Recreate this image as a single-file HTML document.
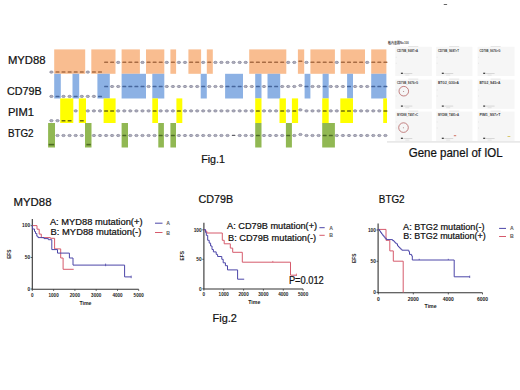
<!DOCTYPE html>
<html><head><meta charset="utf-8"><title>IOL gene panel</title>
<style>
html,body{margin:0;padding:0;background:#fff;width:520px;height:390px;overflow:hidden}
svg{display:block}
text{font-family:"Liberation Sans",sans-serif}
</style></head>
<body>
<svg width="520" height="390" viewBox="0 0 520 390">
<rect width="520" height="390" fill="#fff"/>
<rect x="54.2" y="49.4" width="31.0" height="24.4" fill="#f9bd90"/>
<rect x="91.3" y="49.4" width="24.2" height="24.4" fill="#f9bd90"/>
<rect x="121.6" y="49.4" width="18.3" height="24.4" fill="#f9bd90"/>
<rect x="146.0" y="49.4" width="18.3" height="24.4" fill="#f9bd90"/>
<rect x="170.4" y="49.4" width="5.7" height="24.4" fill="#f9bd90"/>
<rect x="188.4" y="49.4" width="12.7" height="24.4" fill="#f9bd90"/>
<rect x="206.8" y="49.4" width="6.0" height="24.4" fill="#f9bd90"/>
<rect x="249.2" y="49.4" width="37.1" height="24.4" fill="#f9bd90"/>
<rect x="297.9" y="49.4" width="6.3" height="24.4" fill="#f9bd90"/>
<rect x="310.4" y="49.4" width="24.5" height="24.4" fill="#f9bd90"/>
<rect x="340.6" y="49.4" width="24.4" height="24.4" fill="#f9bd90"/>
<rect x="371.2" y="49.4" width="15.2" height="24.4" fill="#f9bd90"/>
<rect x="54.2" y="73.8" width="6.6" height="24.7" fill="#8cb1e4"/>
<rect x="72.5" y="73.8" width="6.7" height="24.7" fill="#8cb1e4"/>
<rect x="97.4" y="73.8" width="12.4" height="24.7" fill="#8cb1e4"/>
<rect x="121.6" y="73.8" width="24.4" height="24.7" fill="#8cb1e4"/>
<rect x="152.3" y="73.8" width="12.0" height="24.7" fill="#8cb1e4"/>
<rect x="200.7" y="73.8" width="6.1" height="24.7" fill="#8cb1e4"/>
<rect x="225.1" y="73.8" width="17.9" height="24.7" fill="#8cb1e4"/>
<rect x="255.2" y="73.8" width="6.3" height="24.7" fill="#8cb1e4"/>
<rect x="267.5" y="73.8" width="12.7" height="24.7" fill="#8cb1e4"/>
<rect x="304.6" y="73.8" width="5.8" height="24.7" fill="#8cb1e4"/>
<rect x="322.6" y="73.8" width="6.1" height="24.7" fill="#8cb1e4"/>
<rect x="347.1" y="73.8" width="5.9" height="24.7" fill="#8cb1e4"/>
<rect x="371.2" y="73.8" width="15.2" height="24.7" fill="#8cb1e4"/>
<rect x="60.2" y="98.4" width="13.1" height="24.6" fill="#ffff00"/>
<rect x="78.8" y="98.4" width="7.2" height="24.6" fill="#ffff00"/>
<rect x="103.6" y="98.4" width="12.0" height="24.6" fill="#ffff00"/>
<rect x="152.3" y="98.4" width="5.7" height="24.6" fill="#ffff00"/>
<rect x="176.4" y="98.4" width="5.9" height="24.6" fill="#ffff00"/>
<rect x="255.2" y="98.4" width="6.3" height="24.6" fill="#ffff00"/>
<rect x="279.5" y="98.4" width="6.4" height="24.6" fill="#ffff00"/>
<rect x="291.9" y="98.4" width="6.2" height="24.6" fill="#ffff00"/>
<rect x="322.2" y="98.4" width="6.5" height="24.6" fill="#ffff00"/>
<rect x="340.3" y="98.4" width="12.7" height="24.6" fill="#ffff00"/>
<rect x="383.2" y="98.4" width="3.8" height="24.6" fill="#ffff00"/>
<rect x="48.1" y="123.0" width="6.9" height="24.5" fill="#91b853"/>
<rect x="85.0" y="123.0" width="6.5" height="24.5" fill="#91b853"/>
<rect x="121.6" y="123.0" width="6.4" height="24.5" fill="#91b853"/>
<rect x="158.3" y="123.0" width="5.6" height="24.5" fill="#91b853"/>
<rect x="170.4" y="123.0" width="5.6" height="24.5" fill="#91b853"/>
<rect x="255.2" y="123.0" width="6.3" height="24.5" fill="#91b853"/>
<rect x="285.9" y="123.0" width="6.0" height="24.5" fill="#91b853"/>
<rect x="322.2" y="123.0" width="12.7" height="24.5" fill="#91b853"/>
<g fill="#aeaebe" stroke="#8a8a9c" stroke-width="0.8"><ellipse cx="51.4" cy="72.1" rx="1.7" ry="1.1"/><ellipse cx="51.4" cy="96.4" rx="1.7" ry="1.1"/><ellipse cx="51.4" cy="120.7" rx="1.7" ry="1.1"/><ellipse cx="57.5" cy="120.7" rx="1.7" ry="1.1"/><ellipse cx="57.5" cy="135.5" rx="1.7" ry="1.1"/><ellipse cx="63.5" cy="96.4" rx="1.7" ry="1.1"/><ellipse cx="63.5" cy="135.5" rx="1.7" ry="1.1"/><ellipse cx="69.6" cy="96.4" rx="1.7" ry="1.1"/><ellipse cx="69.6" cy="135.5" rx="1.7" ry="1.1"/><ellipse cx="75.7" cy="110.9" rx="1.7" ry="1.1"/><ellipse cx="75.7" cy="135.5" rx="1.7" ry="1.1"/><ellipse cx="81.8" cy="96.4" rx="1.7" ry="1.1"/><ellipse cx="81.8" cy="135.5" rx="1.7" ry="1.1"/><ellipse cx="87.8" cy="72.1" rx="1.7" ry="1.1"/><ellipse cx="87.8" cy="96.4" rx="1.7" ry="1.1"/><ellipse cx="87.8" cy="110.9" rx="1.7" ry="1.1"/><ellipse cx="93.9" cy="96.4" rx="1.7" ry="1.1"/><ellipse cx="93.9" cy="110.9" rx="1.7" ry="1.1"/><ellipse cx="93.9" cy="135.5" rx="1.7" ry="1.1"/><ellipse cx="100.0" cy="110.9" rx="1.7" ry="1.1"/><ellipse cx="100.0" cy="135.5" rx="1.7" ry="1.1"/><ellipse cx="106.1" cy="135.5" rx="1.7" ry="1.1"/><ellipse cx="112.1" cy="86.5" rx="1.7" ry="1.1"/><ellipse cx="112.1" cy="135.5" rx="1.7" ry="1.1"/><ellipse cx="118.2" cy="62.4" rx="1.7" ry="1.1"/><ellipse cx="118.2" cy="86.5" rx="1.7" ry="1.1"/><ellipse cx="118.2" cy="110.9" rx="1.7" ry="1.1"/><ellipse cx="118.2" cy="135.5" rx="1.7" ry="1.1"/><ellipse cx="124.3" cy="110.9" rx="1.7" ry="1.1"/><ellipse cx="130.3" cy="110.9" rx="1.7" ry="1.1"/><ellipse cx="130.3" cy="135.5" rx="1.7" ry="1.1"/><ellipse cx="136.4" cy="110.9" rx="1.7" ry="1.1"/><ellipse cx="136.4" cy="135.5" rx="1.7" ry="1.1"/><ellipse cx="142.5" cy="62.4" rx="1.7" ry="1.1"/><ellipse cx="142.5" cy="110.9" rx="1.7" ry="1.1"/><ellipse cx="142.5" cy="135.5" rx="1.7" ry="1.1"/><ellipse cx="148.6" cy="86.5" rx="1.7" ry="1.1"/><ellipse cx="148.6" cy="110.9" rx="1.7" ry="1.1"/><ellipse cx="148.6" cy="135.5" rx="1.7" ry="1.1"/><ellipse cx="154.6" cy="135.5" rx="1.7" ry="1.1"/><ellipse cx="160.7" cy="110.9" rx="1.7" ry="1.1"/><ellipse cx="166.8" cy="62.4" rx="1.7" ry="1.1"/><ellipse cx="166.8" cy="86.5" rx="1.7" ry="1.1"/><ellipse cx="166.8" cy="110.9" rx="1.7" ry="1.1"/><ellipse cx="166.8" cy="135.5" rx="1.7" ry="1.1"/><ellipse cx="172.9" cy="86.5" rx="1.7" ry="1.1"/><ellipse cx="172.9" cy="110.9" rx="1.7" ry="1.1"/><ellipse cx="178.9" cy="62.4" rx="1.7" ry="1.1"/><ellipse cx="178.9" cy="86.5" rx="1.7" ry="1.1"/><ellipse cx="178.9" cy="135.5" rx="1.7" ry="1.1"/><ellipse cx="185.0" cy="62.4" rx="1.7" ry="1.1"/><ellipse cx="185.0" cy="86.5" rx="1.7" ry="1.1"/><ellipse cx="185.0" cy="110.9" rx="1.7" ry="1.1"/><ellipse cx="185.0" cy="135.5" rx="1.7" ry="1.1"/><ellipse cx="191.1" cy="86.5" rx="1.7" ry="1.1"/><ellipse cx="191.1" cy="110.9" rx="1.7" ry="1.1"/><ellipse cx="191.1" cy="135.5" rx="1.7" ry="1.1"/><ellipse cx="197.2" cy="86.5" rx="1.7" ry="1.1"/><ellipse cx="197.2" cy="110.9" rx="1.7" ry="1.1"/><ellipse cx="197.2" cy="135.5" rx="1.7" ry="1.1"/><ellipse cx="203.2" cy="62.4" rx="1.7" ry="1.1"/><ellipse cx="203.2" cy="110.9" rx="1.7" ry="1.1"/><ellipse cx="203.2" cy="135.5" rx="1.7" ry="1.1"/><ellipse cx="209.3" cy="86.5" rx="1.7" ry="1.1"/><ellipse cx="209.3" cy="110.9" rx="1.7" ry="1.1"/><ellipse cx="209.3" cy="135.5" rx="1.7" ry="1.1"/><ellipse cx="215.4" cy="62.4" rx="1.7" ry="1.1"/><ellipse cx="215.4" cy="86.5" rx="1.7" ry="1.1"/><ellipse cx="215.4" cy="110.9" rx="1.7" ry="1.1"/><ellipse cx="215.4" cy="135.5" rx="1.7" ry="1.1"/><ellipse cx="221.4" cy="62.4" rx="1.7" ry="1.1"/><ellipse cx="221.4" cy="86.5" rx="1.7" ry="1.1"/><ellipse cx="221.4" cy="110.9" rx="1.7" ry="1.1"/><ellipse cx="221.4" cy="135.5" rx="1.7" ry="1.1"/><ellipse cx="227.5" cy="62.4" rx="1.7" ry="1.1"/><ellipse cx="227.5" cy="110.9" rx="1.7" ry="1.1"/><ellipse cx="227.5" cy="135.5" rx="1.7" ry="1.1"/><ellipse cx="233.6" cy="62.4" rx="1.7" ry="1.1"/><ellipse cx="233.6" cy="110.9" rx="1.7" ry="1.1"/><ellipse cx="239.7" cy="62.4" rx="1.7" ry="1.1"/><ellipse cx="239.7" cy="110.9" rx="1.7" ry="1.1"/><ellipse cx="239.7" cy="135.5" rx="1.7" ry="1.1"/><ellipse cx="245.7" cy="62.4" rx="1.7" ry="1.1"/><ellipse cx="245.7" cy="86.5" rx="1.7" ry="1.1"/><ellipse cx="245.7" cy="110.9" rx="1.7" ry="1.1"/><ellipse cx="245.7" cy="135.5" rx="1.7" ry="1.1"/><ellipse cx="251.8" cy="86.5" rx="1.7" ry="1.1"/><ellipse cx="251.8" cy="110.9" rx="1.7" ry="1.1"/><ellipse cx="251.8" cy="135.5" rx="1.7" ry="1.1"/><ellipse cx="264.0" cy="86.5" rx="1.7" ry="1.1"/><ellipse cx="264.0" cy="110.9" rx="1.7" ry="1.1"/><ellipse cx="264.0" cy="135.5" rx="1.7" ry="1.1"/><ellipse cx="270.0" cy="110.9" rx="1.7" ry="1.1"/><ellipse cx="270.0" cy="135.5" rx="1.7" ry="1.1"/><ellipse cx="276.1" cy="110.9" rx="1.7" ry="1.1"/><ellipse cx="276.1" cy="135.5" rx="1.7" ry="1.1"/><ellipse cx="282.2" cy="86.5" rx="1.7" ry="1.1"/><ellipse cx="282.2" cy="135.5" rx="1.7" ry="1.1"/><ellipse cx="288.2" cy="62.4" rx="1.7" ry="1.1"/><ellipse cx="288.2" cy="86.5" rx="1.7" ry="1.1"/><ellipse cx="288.2" cy="110.9" rx="1.7" ry="1.1"/><ellipse cx="294.3" cy="62.4" rx="1.7" ry="1.1"/><ellipse cx="294.3" cy="86.5" rx="1.7" ry="1.1"/><ellipse cx="294.3" cy="135.5" rx="1.7" ry="1.1"/><ellipse cx="300.4" cy="85.5" rx="1.7" ry="1.1"/><ellipse cx="300.4" cy="109.9" rx="1.7" ry="1.1"/><ellipse cx="300.4" cy="134.5" rx="1.7" ry="1.1"/><ellipse cx="306.5" cy="62.4" rx="1.7" ry="1.1"/><ellipse cx="306.5" cy="110.9" rx="1.7" ry="1.1"/><ellipse cx="306.5" cy="135.5" rx="1.7" ry="1.1"/><ellipse cx="312.5" cy="86.5" rx="1.7" ry="1.1"/><ellipse cx="312.5" cy="110.9" rx="1.7" ry="1.1"/><ellipse cx="312.5" cy="135.5" rx="1.7" ry="1.1"/><ellipse cx="318.6" cy="86.5" rx="1.7" ry="1.1"/><ellipse cx="318.6" cy="110.9" rx="1.7" ry="1.1"/><ellipse cx="318.6" cy="135.5" rx="1.7" ry="1.1"/><ellipse cx="330.8" cy="86.5" rx="1.7" ry="1.1"/><ellipse cx="330.8" cy="110.9" rx="1.7" ry="1.1"/><ellipse cx="336.8" cy="62.4" rx="1.7" ry="1.1"/><ellipse cx="336.8" cy="86.5" rx="1.7" ry="1.1"/><ellipse cx="336.8" cy="110.9" rx="1.7" ry="1.1"/><ellipse cx="336.8" cy="135.5" rx="1.7" ry="1.1"/><ellipse cx="342.9" cy="86.5" rx="1.7" ry="1.1"/><ellipse cx="342.9" cy="135.5" rx="1.7" ry="1.1"/><ellipse cx="349.0" cy="135.5" rx="1.7" ry="1.1"/><ellipse cx="355.1" cy="86.5" rx="1.7" ry="1.1"/><ellipse cx="355.1" cy="110.9" rx="1.7" ry="1.1"/><ellipse cx="355.1" cy="135.5" rx="1.7" ry="1.1"/><ellipse cx="361.1" cy="86.5" rx="1.7" ry="1.1"/><ellipse cx="361.1" cy="110.9" rx="1.7" ry="1.1"/><ellipse cx="361.1" cy="135.5" rx="1.7" ry="1.1"/><ellipse cx="367.2" cy="62.4" rx="1.7" ry="1.1"/><ellipse cx="367.2" cy="86.5" rx="1.7" ry="1.1"/><ellipse cx="367.2" cy="110.9" rx="1.7" ry="1.1"/><ellipse cx="367.2" cy="135.5" rx="1.7" ry="1.1"/><ellipse cx="373.3" cy="110.9" rx="1.7" ry="1.1"/><ellipse cx="373.3" cy="135.5" rx="1.7" ry="1.1"/><ellipse cx="379.3" cy="110.9" rx="1.7" ry="1.1"/><ellipse cx="379.3" cy="135.5" rx="1.7" ry="1.1"/><ellipse cx="385.4" cy="135.5" rx="1.7" ry="1.1"/></g><rect x="55.5" y="71.3" width="4.0" height="1.5" rx="0.5" fill="#a86c44"/><rect x="55.5" y="95.7" width="4.0" height="1.5" rx="0.5" fill="#46669c"/><rect x="61.5" y="71.3" width="4.0" height="1.5" rx="0.5" fill="#a86c44"/><rect x="61.5" y="120.0" width="4.0" height="1.5" rx="0.5" fill="#70700c"/><rect x="67.6" y="71.3" width="4.0" height="1.5" rx="0.5" fill="#a86c44"/><rect x="67.6" y="120.0" width="4.0" height="1.5" rx="0.5" fill="#70700c"/><rect x="73.7" y="71.3" width="4.0" height="1.5" rx="0.5" fill="#a86c44"/><rect x="73.7" y="95.7" width="4.0" height="1.5" rx="0.5" fill="#46669c"/><rect x="79.8" y="71.3" width="4.0" height="1.5" rx="0.5" fill="#a86c44"/><rect x="79.8" y="120.0" width="4.0" height="1.5" rx="0.5" fill="#70700c"/><rect x="91.9" y="71.3" width="4.0" height="1.5" rx="0.5" fill="#a86c44"/><rect x="98.0" y="71.3" width="4.0" height="1.5" rx="0.5" fill="#a86c44"/><rect x="98.0" y="95.7" width="4.0" height="1.5" rx="0.5" fill="#46669c"/><rect x="104.1" y="61.6" width="4.0" height="1.5" rx="0.5" fill="#a86c44"/><rect x="104.1" y="85.8" width="4.0" height="1.5" rx="0.5" fill="#46669c"/><rect x="104.1" y="110.2" width="4.0" height="1.5" rx="0.5" fill="#70700c"/><rect x="110.1" y="61.6" width="4.0" height="1.5" rx="0.5" fill="#a86c44"/><rect x="110.1" y="110.2" width="4.0" height="1.5" rx="0.5" fill="#70700c"/><rect x="122.3" y="61.6" width="4.0" height="1.5" rx="0.5" fill="#a86c44"/><rect x="122.3" y="85.8" width="4.0" height="1.5" rx="0.5" fill="#46669c"/><rect x="122.3" y="134.8" width="4.0" height="1.5" rx="0.5" fill="#4c6a26"/><rect x="128.3" y="61.6" width="4.0" height="1.5" rx="0.5" fill="#a86c44"/><rect x="128.3" y="85.8" width="4.0" height="1.5" rx="0.5" fill="#46669c"/><rect x="134.4" y="61.6" width="4.0" height="1.5" rx="0.5" fill="#a86c44"/><rect x="134.4" y="85.8" width="4.0" height="1.5" rx="0.5" fill="#46669c"/><rect x="140.5" y="85.8" width="4.0" height="1.5" rx="0.5" fill="#46669c"/><rect x="146.6" y="61.6" width="4.0" height="1.5" rx="0.5" fill="#a86c44"/><rect x="152.6" y="61.6" width="4.0" height="1.5" rx="0.5" fill="#a86c44"/><rect x="152.6" y="85.8" width="4.0" height="1.5" rx="0.5" fill="#46669c"/><rect x="152.6" y="110.2" width="4.0" height="1.5" rx="0.5" fill="#70700c"/><rect x="158.7" y="61.6" width="4.0" height="1.5" rx="0.5" fill="#a86c44"/><rect x="158.7" y="85.8" width="4.0" height="1.5" rx="0.5" fill="#46669c"/><rect x="158.7" y="134.8" width="4.0" height="1.5" rx="0.5" fill="#4c6a26"/><rect x="170.9" y="61.6" width="4.0" height="1.5" rx="0.5" fill="#a86c44"/><rect x="170.9" y="134.8" width="4.0" height="1.5" rx="0.5" fill="#4c6a26"/><rect x="176.9" y="110.2" width="4.0" height="1.5" rx="0.5" fill="#70700c"/><rect x="189.1" y="61.6" width="4.0" height="1.5" rx="0.5" fill="#a86c44"/><rect x="195.2" y="61.6" width="4.0" height="1.5" rx="0.5" fill="#a86c44"/><rect x="201.2" y="85.8" width="4.0" height="1.5" rx="0.5" fill="#46669c"/><rect x="207.3" y="61.6" width="4.0" height="1.5" rx="0.5" fill="#a86c44"/><rect x="225.5" y="85.8" width="4.0" height="1.5" rx="0.5" fill="#46669c"/><rect x="231.6" y="85.8" width="4.0" height="1.5" rx="0.5" fill="#46669c"/><rect x="237.7" y="85.8" width="4.0" height="1.5" rx="0.5" fill="#46669c"/><rect x="249.8" y="61.6" width="4.0" height="1.5" rx="0.5" fill="#a86c44"/><rect x="255.9" y="61.6" width="4.0" height="1.5" rx="0.5" fill="#a86c44"/><rect x="255.9" y="85.8" width="4.0" height="1.5" rx="0.5" fill="#46669c"/><rect x="255.9" y="110.2" width="4.0" height="1.5" rx="0.5" fill="#70700c"/><rect x="255.9" y="134.8" width="4.0" height="1.5" rx="0.5" fill="#4c6a26"/><rect x="262.0" y="61.6" width="4.0" height="1.5" rx="0.5" fill="#a86c44"/><rect x="268.0" y="61.6" width="4.0" height="1.5" rx="0.5" fill="#a86c44"/><rect x="268.0" y="85.8" width="4.0" height="1.5" rx="0.5" fill="#46669c"/><rect x="274.1" y="61.6" width="4.0" height="1.5" rx="0.5" fill="#a86c44"/><rect x="274.1" y="85.8" width="4.0" height="1.5" rx="0.5" fill="#46669c"/><rect x="280.2" y="61.6" width="4.0" height="1.5" rx="0.5" fill="#a86c44"/><rect x="280.2" y="110.2" width="4.0" height="1.5" rx="0.5" fill="#70700c"/><rect x="286.2" y="134.8" width="4.0" height="1.5" rx="0.5" fill="#4c6a26"/><rect x="292.3" y="110.2" width="4.0" height="1.5" rx="0.5" fill="#70700c"/><rect x="298.4" y="60.6" width="4.0" height="1.5" rx="0.5" fill="#a86c44"/><rect x="304.5" y="85.8" width="4.0" height="1.5" rx="0.5" fill="#46669c"/><rect x="310.5" y="61.6" width="4.0" height="1.5" rx="0.5" fill="#a86c44"/><rect x="316.6" y="61.6" width="4.0" height="1.5" rx="0.5" fill="#a86c44"/><rect x="322.7" y="61.6" width="4.0" height="1.5" rx="0.5" fill="#a86c44"/><rect x="322.7" y="85.8" width="4.0" height="1.5" rx="0.5" fill="#46669c"/><rect x="322.7" y="110.2" width="4.0" height="1.5" rx="0.5" fill="#70700c"/><rect x="322.7" y="134.8" width="4.0" height="1.5" rx="0.5" fill="#4c6a26"/><rect x="328.8" y="61.6" width="4.0" height="1.5" rx="0.5" fill="#a86c44"/><rect x="328.8" y="134.8" width="4.0" height="1.5" rx="0.5" fill="#4c6a26"/><rect x="340.9" y="61.6" width="4.0" height="1.5" rx="0.5" fill="#a86c44"/><rect x="340.9" y="110.2" width="4.0" height="1.5" rx="0.5" fill="#70700c"/><rect x="347.0" y="61.6" width="4.0" height="1.5" rx="0.5" fill="#a86c44"/><rect x="347.0" y="85.8" width="4.0" height="1.5" rx="0.5" fill="#46669c"/><rect x="347.0" y="110.2" width="4.0" height="1.5" rx="0.5" fill="#70700c"/><rect x="353.1" y="61.6" width="4.0" height="1.5" rx="0.5" fill="#a86c44"/><rect x="359.1" y="61.6" width="4.0" height="1.5" rx="0.5" fill="#a86c44"/><rect x="371.3" y="61.6" width="4.0" height="1.5" rx="0.5" fill="#a86c44"/><rect x="371.3" y="85.8" width="4.0" height="1.5" rx="0.5" fill="#46669c"/><rect x="377.3" y="61.6" width="4.0" height="1.5" rx="0.5" fill="#a86c44"/><rect x="377.3" y="85.8" width="4.0" height="1.5" rx="0.5" fill="#46669c"/><rect x="383.4" y="61.6" width="4.0" height="1.5" rx="0.5" fill="#a86c44"/><rect x="383.4" y="85.8" width="4.0" height="1.5" rx="0.5" fill="#46669c"/><rect x="383.4" y="110.2" width="4.0" height="1.5" rx="0.5" fill="#70700c"/>
<rect x="231.8" y="134.8" width="3.6" height="1.3" rx="0.5" fill="#606068"/><g fill="#4d6a22"><rect x="48.6" y="143.8" width="5.6" height="1.6"/><rect x="86.4" y="143.8" width="4.4" height="1.6"/></g>
<rect x="395.3" y="46.8" width="36.5" height="29.2" fill="#f6f6f6"/>
<text x="397.1" y="51.5" font-size="3.4" font-weight="bold" fill="#3a3a3a" textLength="21" lengthAdjust="spacingAndGlyphs">CD79B_S687&gt;A</text>
<rect x="408.3" y="46.0" width="10" height="0.5" fill="#ccc"/>
<rect x="400.9" y="72.7" width="2" height="1.2" fill="#333"/>
<rect x="403.3" y="73.0" width="9" height="0.5" fill="#bbb"/>
<rect x="405.3" y="74.8" width="4" height="0.5" fill="#ccc"/>
<rect x="395.8" y="56.8" width="0.8" height="0.8" fill="#ddd"/>
<rect x="395.8" y="62.8" width="0.8" height="0.8" fill="#ddd"/>
<rect x="436.2" y="46.8" width="36.2" height="29.2" fill="#f6f6f6"/>
<text x="438.0" y="51.5" font-size="3.4" font-weight="bold" fill="#3a3a3a" textLength="21" lengthAdjust="spacingAndGlyphs">CD79B_S687&gt;T</text>
<rect x="449.2" y="46.0" width="10" height="0.5" fill="#ccc"/>
<rect x="441.8" y="72.7" width="2" height="1.2" fill="#333"/>
<rect x="444.2" y="73.0" width="9" height="0.5" fill="#bbb"/>
<rect x="446.2" y="74.8" width="4" height="0.5" fill="#ccc"/>
<rect x="436.7" y="56.8" width="0.8" height="0.8" fill="#ddd"/>
<rect x="436.7" y="62.8" width="0.8" height="0.8" fill="#ddd"/>
<rect x="477.6" y="46.8" width="36.9" height="29.2" fill="#f6f6f6"/>
<text x="479.4" y="51.5" font-size="3.4" font-weight="bold" fill="#3a3a3a" textLength="21" lengthAdjust="spacingAndGlyphs">CD79B_S676&gt;G</text>
<rect x="490.6" y="46.0" width="10" height="0.5" fill="#ccc"/>
<rect x="483.2" y="72.7" width="2" height="1.2" fill="#333"/>
<rect x="485.6" y="73.0" width="9" height="0.5" fill="#bbb"/>
<rect x="487.6" y="74.8" width="4" height="0.5" fill="#ccc"/>
<rect x="478.1" y="56.8" width="0.8" height="0.8" fill="#ddd"/>
<rect x="478.1" y="62.8" width="0.8" height="0.8" fill="#ddd"/>
<rect x="395.3" y="79.6" width="36.5" height="29.2" fill="#f6f6f6"/>
<text x="397.1" y="84.3" font-size="3.4" font-weight="bold" fill="#3a3a3a" textLength="21" lengthAdjust="spacingAndGlyphs">CD79B_S676&gt;G</text>
<rect x="408.3" y="78.8" width="10" height="0.5" fill="#ccc"/>
<rect x="400.9" y="105.5" width="2" height="1.2" fill="#333"/>
<rect x="403.3" y="105.8" width="9" height="0.5" fill="#bbb"/>
<rect x="405.3" y="107.6" width="4" height="0.5" fill="#ccc"/>
<rect x="395.8" y="89.6" width="0.8" height="0.8" fill="#ddd"/>
<rect x="395.8" y="95.6" width="0.8" height="0.8" fill="#ddd"/>
<rect x="436.2" y="79.6" width="36.2" height="29.2" fill="#f6f6f6"/>
<text x="438.0" y="84.3" font-size="3.4" font-weight="bold" fill="#3a3a3a" textLength="21" lengthAdjust="spacingAndGlyphs">BTG2_G30&gt;A</text>
<rect x="449.2" y="78.8" width="10" height="0.5" fill="#ccc"/>
<rect x="441.8" y="105.5" width="2" height="1.2" fill="#333"/>
<rect x="444.2" y="105.8" width="9" height="0.5" fill="#bbb"/>
<rect x="446.2" y="107.6" width="4" height="0.5" fill="#ccc"/>
<rect x="436.7" y="89.6" width="0.8" height="0.8" fill="#ddd"/>
<rect x="436.7" y="95.6" width="0.8" height="0.8" fill="#ddd"/>
<rect x="477.6" y="79.6" width="36.9" height="29.2" fill="#f6f6f6"/>
<text x="479.4" y="84.3" font-size="3.4" font-weight="bold" fill="#3a3a3a" textLength="21" lengthAdjust="spacingAndGlyphs">BTG2_S45&gt;A</text>
<rect x="490.6" y="78.8" width="10" height="0.5" fill="#ccc"/>
<rect x="483.2" y="105.5" width="2" height="1.2" fill="#333"/>
<rect x="485.6" y="105.8" width="9" height="0.5" fill="#bbb"/>
<rect x="487.6" y="107.6" width="4" height="0.5" fill="#ccc"/>
<rect x="478.1" y="89.6" width="0.8" height="0.8" fill="#ddd"/>
<rect x="478.1" y="95.6" width="0.8" height="0.8" fill="#ddd"/>
<rect x="395.3" y="111.6" width="36.5" height="29.4" fill="#f6f6f6"/>
<text x="397.1" y="116.3" font-size="3.4" font-weight="bold" fill="#3a3a3a" textLength="21" lengthAdjust="spacingAndGlyphs">MYD88_T497&gt;C</text>
<rect x="408.3" y="110.8" width="10" height="0.5" fill="#ccc"/>
<rect x="400.9" y="137.7" width="2" height="1.2" fill="#333"/>
<rect x="403.3" y="138.0" width="9" height="0.5" fill="#bbb"/>
<rect x="405.3" y="139.8" width="4" height="0.5" fill="#ccc"/>
<rect x="395.8" y="121.6" width="0.8" height="0.8" fill="#ddd"/>
<rect x="395.8" y="127.6" width="0.8" height="0.8" fill="#ddd"/>
<rect x="436.2" y="111.6" width="36.2" height="29.4" fill="#f6f6f6"/>
<text x="438.0" y="116.3" font-size="3.4" font-weight="bold" fill="#3a3a3a" textLength="21" lengthAdjust="spacingAndGlyphs">MYD88_T481&gt;A</text>
<rect x="449.2" y="110.8" width="10" height="0.5" fill="#ccc"/>
<rect x="441.8" y="137.7" width="2" height="1.2" fill="#333"/>
<rect x="444.2" y="138.0" width="9" height="0.5" fill="#bbb"/>
<rect x="446.2" y="139.8" width="4" height="0.5" fill="#ccc"/>
<rect x="436.7" y="121.6" width="0.8" height="0.8" fill="#ddd"/>
<rect x="436.7" y="127.6" width="0.8" height="0.8" fill="#ddd"/>
<rect x="477.6" y="111.6" width="36.9" height="29.4" fill="#f6f6f6"/>
<text x="479.4" y="116.3" font-size="3.4" font-weight="bold" fill="#3a3a3a" textLength="21" lengthAdjust="spacingAndGlyphs">PIM1_S97&gt;T</text>
<rect x="490.6" y="110.8" width="10" height="0.5" fill="#ccc"/>
<rect x="483.2" y="137.7" width="2" height="1.2" fill="#333"/>
<rect x="485.6" y="138.0" width="9" height="0.5" fill="#bbb"/>
<rect x="487.6" y="139.8" width="4" height="0.5" fill="#ccc"/>
<rect x="478.1" y="121.6" width="0.8" height="0.8" fill="#ddd"/>
<rect x="478.1" y="127.6" width="0.8" height="0.8" fill="#ddd"/>
<circle cx="403.8" cy="91.2" r="4.8" fill="none" stroke="#b05a5a" stroke-width="0.75"/>
<circle cx="403.5" cy="127.6" r="4.8" fill="none" stroke="#b05a5a" stroke-width="0.75"/>
<circle cx="403.6" cy="91.4" r="0.5" fill="#a07070"/>
<circle cx="403.4" cy="127.8" r="0.5" fill="#a07070"/>
<rect x="453.8" y="135.2" width="2.4" height="1" fill="#d07060"/>
<rect x="507.5" y="136" width="2.8" height="1" fill="#d8c870"/>
<text x="388.3" y="44.4" font-size="3.6" font-weight="bold" fill="#444" textLength="20.5" lengthAdjust="spacingAndGlyphs">&#26816;&#20869;&#22522;&#22240;No.100</text>
<rect x="387" y="141.6" width="133" height="0.7" fill="#c8c8c8"/>
<rect x="443.6" y="4" width="3.6" height="1" rx="0.5" fill="#666"/>
<text x="7.9" y="63.8" font-size="10.6" textLength="37.6" lengthAdjust="spacingAndGlyphs" fill="#111" stroke="#111" stroke-width="0.22">MYD88</text><text x="7.0" y="95.1" font-size="10.2" textLength="34.7" lengthAdjust="spacingAndGlyphs" fill="#111" stroke="#111" stroke-width="0.22">CD79B</text><text x="7.9" y="116.4" font-size="10.7" textLength="26.1" lengthAdjust="spacingAndGlyphs" fill="#111" stroke="#111" stroke-width="0.22">PIM1</text><text x="7.9" y="137.2" font-size="10.5" textLength="25.7" lengthAdjust="spacingAndGlyphs" fill="#111" stroke="#111" stroke-width="0.22">BTG2</text><text x="201.2" y="163.1" font-size="11.0" textLength="23.7" lengthAdjust="spacingAndGlyphs" fill="#111" stroke="#111" stroke-width="0.22">Fig.1</text><text x="408.8" y="157.3" font-size="11.9" textLength="93.9" lengthAdjust="spacingAndGlyphs" fill="#111" stroke="#111" stroke-width="0.22">Gene panel of IOL</text><text x="13.5" y="206.2" font-size="10.3" textLength="38.0" lengthAdjust="spacingAndGlyphs" fill="#111" stroke="#111" stroke-width="0.22">MYD88</text><text x="198.5" y="203.2" font-size="10.3" textLength="34.6" lengthAdjust="spacingAndGlyphs" fill="#111" stroke="#111" stroke-width="0.22">CD79B</text><text x="378.8" y="203.2" font-size="10.3" textLength="25.8" lengthAdjust="spacingAndGlyphs" fill="#111" stroke="#111" stroke-width="0.22">BTG2</text><text x="49.9" y="224.7" font-size="9.1" textLength="92.6" lengthAdjust="spacingAndGlyphs" fill="#111" stroke="#111" stroke-width="0.22">A: MYD88 mutation(+)</text><text x="50.6" y="235.3" font-size="9.1" textLength="90.7" lengthAdjust="spacingAndGlyphs" fill="#111" stroke="#111" stroke-width="0.22">B: MYD88 mutation(-)</text><text x="227.1" y="228.8" font-size="8.9" textLength="90.0" lengthAdjust="spacingAndGlyphs" fill="#111" stroke="#111" stroke-width="0.22">A: CD79B mutation(+)</text><text x="228.0" y="240.5" font-size="8.9" textLength="88.2" lengthAdjust="spacingAndGlyphs" fill="#111" stroke="#111" stroke-width="0.22">B: CD79B mutation(-)</text><text x="403.1" y="229.7" font-size="8.9" textLength="81.4" lengthAdjust="spacingAndGlyphs" fill="#111" stroke="#111" stroke-width="0.22">A: BTG2 mutation(-)</text><text x="403.3" y="239.2" font-size="8.9" textLength="82.4" lengthAdjust="spacingAndGlyphs" fill="#111" stroke="#111" stroke-width="0.22">B: BTG2 mutation(+)</text><text x="288.9" y="284.0" font-size="10.3" textLength="34.9" lengthAdjust="spacingAndGlyphs" fill="#111" stroke="#111" stroke-width="0.22">P=0.012</text><text x="212.6" y="322.3" font-size="11.3" textLength="24.3" lengthAdjust="spacingAndGlyphs" fill="#111" stroke="#111" stroke-width="0.22">Fig.2</text>
<path d="M32.3,219.0 V289.3 H138.7" fill="none" stroke="#333" stroke-width="1.1"/>
<path d="M30.699999999999996,225.7 H32.3" stroke="#333" stroke-width="0.8"/>
<path d="M30.699999999999996,257.5 H32.3" stroke="#333" stroke-width="0.8"/>
<path d="M30.699999999999996,289.0 H32.3" stroke="#333" stroke-width="0.8"/>
<path d="M32.3,289.3 V290.90000000000003" stroke="#333" stroke-width="0.8"/>
<path d="M53.6,289.3 V290.90000000000003" stroke="#333" stroke-width="0.8"/>
<path d="M74.9,289.3 V290.90000000000003" stroke="#333" stroke-width="0.8"/>
<path d="M96.2,289.3 V290.90000000000003" stroke="#333" stroke-width="0.8"/>
<path d="M117.5,289.3 V290.90000000000003" stroke="#333" stroke-width="0.8"/>
<path d="M138.7,289.3 V290.90000000000003" stroke="#333" stroke-width="0.8"/>
<text x="30.099999999999998" y="227.39999999999998" font-size="4.8" font-weight="bold" text-anchor="end" fill="#222">100</text>
<text x="30.099999999999998" y="259.2" font-size="4.8" font-weight="bold" text-anchor="end" fill="#222">50</text>
<text x="30.099999999999998" y="290.7" font-size="4.8" font-weight="bold" text-anchor="end" fill="#222">0</text>
<text x="32.3" y="297.3" font-size="4.6" font-weight="bold" text-anchor="middle" fill="#222">0</text>
<text x="53.6" y="297.3" font-size="4.6" font-weight="bold" text-anchor="middle" fill="#222">1000</text>
<text x="74.9" y="297.3" font-size="4.6" font-weight="bold" text-anchor="middle" fill="#222">2000</text>
<text x="96.2" y="297.3" font-size="4.6" font-weight="bold" text-anchor="middle" fill="#222">3000</text>
<text x="117.5" y="297.3" font-size="4.6" font-weight="bold" text-anchor="middle" fill="#222">4000</text>
<text x="138.7" y="297.3" font-size="4.6" font-weight="bold" text-anchor="middle" fill="#222">5000</text>
<text x="85.4" y="304.7" font-size="5.2" font-weight="bold" text-anchor="middle" fill="#222">Time</text>
<text transform="translate(10.6,254.2) rotate(-90)" x="0" y="0" font-size="4.8" font-weight="bold" text-anchor="middle" fill="#222">EFS</text>
<path d="M32.5,225.6 H37 V229.2 H39.2 V234.1 H41.3 V237.6 H50.4 V238.3 H54.6 V248.9 H60.7 V258 H63.1 V269.3 H73.7" fill="none" stroke="#d65a6c" stroke-width="1.0"/>
<path d="M32.5,225.6 V229 H34.5 V231.5 H35.5 V233.5 H36.8 V236.2 H38 V237.6 H44 V238.6 H48.3 V239.7 H51.8 V249.6 H57.5 V253.1 H69.4 V258 H73 V265.1 H124.6 V276.9 H131.2" fill="none" stroke="#4c46a8" stroke-width="1.0"/>
<path d="M105.6,263.6 V266.2 M131.2,275.6 V278.2" stroke="#4c46a8" stroke-width="0.8"/>
<path d="M155,223.2 H162.5" stroke="#4c46a8" stroke-width="1"/><path d="M155,232.5 H162.5" stroke="#d65a6c" stroke-width="1"/>
<text x="166.3" y="225.3" font-size="5.2" font-weight="bold" fill="#5a5a5a" >A</text>
<text x="166.3" y="234.6" font-size="5.2" font-weight="bold" fill="#5a5a5a" >B</text>
<path d="M203.9,222.8 V289.0 H303.1" fill="none" stroke="#333" stroke-width="1.1"/>
<path d="M202.3,229.8 H203.9" stroke="#333" stroke-width="0.8"/>
<path d="M202.3,259.3 H203.9" stroke="#333" stroke-width="0.8"/>
<path d="M202.3,288.8 H203.9" stroke="#333" stroke-width="0.8"/>
<path d="M203.9,289.0 V290.6" stroke="#333" stroke-width="0.8"/>
<path d="M223.7,289.0 V290.6" stroke="#333" stroke-width="0.8"/>
<path d="M243.6,289.0 V290.6" stroke="#333" stroke-width="0.8"/>
<path d="M263.4,289.0 V290.6" stroke="#333" stroke-width="0.8"/>
<path d="M283.3,289.0 V290.6" stroke="#333" stroke-width="0.8"/>
<path d="M303.1,289.0 V290.6" stroke="#333" stroke-width="0.8"/>
<text x="201.70000000000002" y="231.5" font-size="4.8" font-weight="bold" text-anchor="end" fill="#222">100</text>
<text x="201.70000000000002" y="261.0" font-size="4.8" font-weight="bold" text-anchor="end" fill="#222">50</text>
<text x="201.70000000000002" y="290.5" font-size="4.8" font-weight="bold" text-anchor="end" fill="#222">0</text>
<text x="203.9" y="295.9" font-size="4.6" font-weight="bold" text-anchor="middle" fill="#222">0</text>
<text x="223.7" y="295.9" font-size="4.6" font-weight="bold" text-anchor="middle" fill="#222">1000</text>
<text x="243.6" y="295.9" font-size="4.6" font-weight="bold" text-anchor="middle" fill="#222">2000</text>
<text x="263.4" y="295.9" font-size="4.6" font-weight="bold" text-anchor="middle" fill="#222">3000</text>
<text x="283.3" y="295.9" font-size="4.6" font-weight="bold" text-anchor="middle" fill="#222">4000</text>
<text x="303.1" y="295.9" font-size="4.6" font-weight="bold" text-anchor="middle" fill="#222">5000</text>
<text x="254.3" y="303.7" font-size="5.2" font-weight="bold" text-anchor="middle" fill="#222">Time</text>
<text transform="translate(183.6,255.8) rotate(-90)" x="0" y="0" font-size="4.8" font-weight="bold" text-anchor="middle" fill="#222">EFS</text>
<path d="M203.9,229.7 H205.4 V231.2 H206.8 V233 H222.3 V240.3 H224.2 V243.8 H230.3 V248.1 H232.7 V252.3 H242.3 V262.2 H290.5 V275.2 H296.4" fill="none" stroke="#d65a6c" stroke-width="1.0"/>
<path d="M203.9,229.7 H205.6 V232.6 H206.3 V235.4 H207.7 V240.3 H209.2 V243.1 H210.6 V246 H212 V249.5 H213.4 V251.9 H216.2 V254.4 H217.6 V256.5 H221.8 V259.3 H223.2 V262.8 H225.4 V265.7 H227.5 V269.9 H237.6 V279.2 H244.2" fill="none" stroke="#4c46a8" stroke-width="1.0"/>
<path d="M272.8,260.9 V262.2 M296.4,273.6 V276" stroke="#d65a6c" stroke-width="0.8"/>
<path d="M319.4,227.7 H324.7" stroke="#4c46a8" stroke-width="1"/><path d="M319.4,235.3 H324.7" stroke="#d65a6c" stroke-width="1"/>
<text x="329.3" y="229.8" font-size="5.2" font-weight="bold" fill="#5a5a5a" >A</text>
<text x="329.3" y="237.3" font-size="5.2" font-weight="bold" fill="#5a5a5a" >B</text>
<path d="M378.1,223.5 V292.8 H482.5" fill="none" stroke="#333" stroke-width="1.1"/>
<path d="M376.5,230.0 H378.1" stroke="#333" stroke-width="0.8"/>
<path d="M376.5,261.3 H378.1" stroke="#333" stroke-width="0.8"/>
<path d="M376.5,292.4 H378.1" stroke="#333" stroke-width="0.8"/>
<path d="M378.3,292.8 V294.40000000000003" stroke="#333" stroke-width="0.8"/>
<path d="M413.3,292.8 V294.40000000000003" stroke="#333" stroke-width="0.8"/>
<path d="M448.3,292.8 V294.40000000000003" stroke="#333" stroke-width="0.8"/>
<path d="M482.5,292.8 V294.40000000000003" stroke="#333" stroke-width="0.8"/>
<text x="375.90000000000003" y="231.7" font-size="4.8" font-weight="bold" text-anchor="end" fill="#222">100</text>
<text x="375.90000000000003" y="263.0" font-size="4.8" font-weight="bold" text-anchor="end" fill="#222">50</text>
<text x="375.90000000000003" y="294.09999999999997" font-size="4.8" font-weight="bold" text-anchor="end" fill="#222">0</text>
<text x="378.3" y="301.09999999999997" font-size="5.0" font-weight="bold" text-anchor="middle" fill="#222">0</text>
<text x="413.3" y="301.09999999999997" font-size="5.0" font-weight="bold" text-anchor="middle" fill="#222">2000</text>
<text x="448.3" y="301.09999999999997" font-size="5.0" font-weight="bold" text-anchor="middle" fill="#222">4000</text>
<text x="482.5" y="301.09999999999997" font-size="5.0" font-weight="bold" text-anchor="middle" fill="#222">6000</text>
<text x="430.6" y="308.29999999999995" font-size="5.2" font-weight="bold" text-anchor="middle" fill="#222">Time</text>
<text transform="translate(356.20000000000005,258.3) rotate(-90)" x="0" y="0" font-size="4.8" font-weight="bold" text-anchor="middle" fill="#222">EFS</text>
<path d="M378.1,229.4 H386 V240.3 H389.8 V250.9 H393.3 V261.2 H403.2 V292.5" fill="none" stroke="#d65a6c" stroke-width="1.0"/>
<path d="M378.1,229.5 H379.5 V231 H380.6 V232.6 H381.6 V234 H382.7 V235.4 H383.8 V236.8 H384.9 V238.2 H386.3 V239.6 H392.6 V240.6 H394 V241.7 H395 V242.8 H396.1 V243.8 H397.5 V245.9 H398.5 V247 H399.6 V248.1 H400.7 V249.2 H401.8 V250.2 H408.8 V251.6 H409.5 V254.4 H411.6 V255.8 H412.3 V260 H454.2 V276.8 H469.7" fill="none" stroke="#4c46a8" stroke-width="1.0"/>
<path d="M419.2,258.8 V260 M448.3,258.8 V260 M469.7,275.6 V278" stroke="#4c46a8" stroke-width="0.8"/>
<path d="M499.1,228.4 H506" stroke="#4c46a8" stroke-width="1"/><path d="M499.1,236.5 H506" stroke="#d65a6c" stroke-width="1"/>
<text x="510.0" y="230.3" font-size="5.2" font-weight="bold" fill="#5a5a5a" >A</text>
<text x="510.0" y="237.9" font-size="5.2" font-weight="bold" fill="#5a5a5a" >B</text>
</svg>
</body></html>
